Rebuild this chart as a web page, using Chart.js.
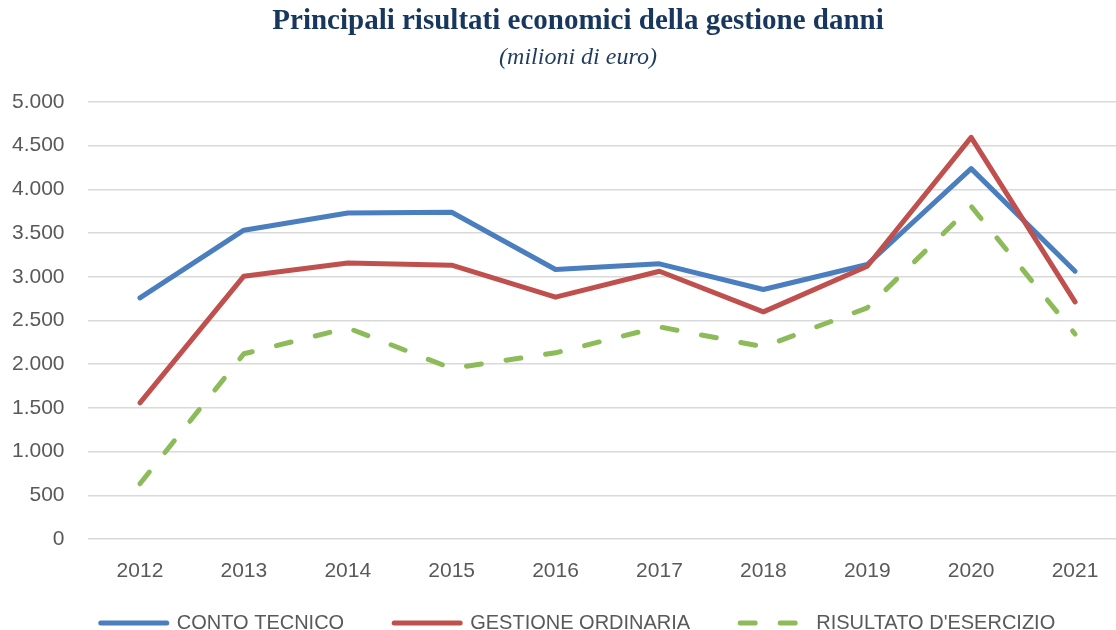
<!DOCTYPE html>
<html>
<head>
<meta charset="utf-8">
<script src="https://cdn.jsdelivr.net/npm/chart.js@4/dist/chart.umd.min.js"></script>
<style>
html,body{margin:0;padding:0;background:#fff;overflow:hidden;width:1116px;height:630px;}
#wrap{position:absolute;left:0;top:0;width:1130px;height:643px;}
</style>
</head>
<body>
<div id="wrap"><canvas id="c" width="1130" height="643"></canvas></div>
<script>
const years = ['2012','2013','2014','2015','2016','2017','2018','2019','2020','2021'];
const contoTecnico = [2759, 3533, 3731, 3739, 3084, 3148, 2855, 3141, 4238, 3064];
const gestioneOrdinaria = [1558, 3007, 3159, 3133, 2767, 3064, 2599, 3121, 4596, 2713];
const risultatoEsercizio = [632, 2119, 2416, 1952, 2130, 2427, 2199, 2645, 3807, 2345];
const seriesNames = ['CONTO TECNICO', 'GESTIONE ORDINARIA', "RISULTATO D'ESERCIZIO"];
const yTicks = [0, 500, 1000, 1500, 2000, 2500, 3000, 3500, 4000, 4500, 5000];

function fmt(v){
  const s = String(Math.round(v));
  return s.replace(/\B(?=(\d{3})+(?!\d))/g, '.');
}

const sans = "'Liberation Sans', Arial, sans-serif";
const serif = "'Liberation Serif', 'Times New Roman', serif";

new Chart(document.getElementById('c'), {
  type: 'line',
  data: {
    labels: years,
    datasets: [
      {label: seriesNames[0], data: contoTecnico, borderColor: '#4A7EBF', backgroundColor: '#4A7EBF',
       borderWidth: 5, pointRadius: 0, tension: 0, borderCapStyle: 'round', borderJoinStyle: 'round', order: 3},
      {label: seriesNames[1], data: gestioneOrdinaria, borderColor: '#C0504D', backgroundColor: '#C0504D',
       borderWidth: 5, pointRadius: 0, tension: 0, borderCapStyle: 'round', borderJoinStyle: 'round', order: 2},
      {label: seriesNames[2], data: risultatoEsercizio, borderColor: '#8DBB5A', backgroundColor: '#8DBB5A',
       borderWidth: 5, pointRadius: 0, tension: 0, borderDash: [15, 25], borderCapStyle: 'round', borderJoinStyle: 'round', order: 1}
    ]
  },
  options: {
    responsive: false,
    animation: false,
    events: [],
    layout: {padding: {left: 29, right: 3, top: 0, bottom: 0}},
    plugins: {
      title: {
        display: true,
        text: 'Principali risultati economici della gestione danni',
        color: '#17375E',
        font: {family: serif, size: 29, weight: 'bold'},
        padding: {top: 4.6, bottom: 0}
      },
      subtitle: {
        display: true,
        text: '(milioni di euro)',
        color: '#1F3B5E',
        font: {family: serif, size: 24, style: 'italic'},
        padding: {top: 4.2, bottom: 29.6}
      },
      legend: {
        position: 'bottom',
        labels: {
          usePointStyle: true,
          pointStyle: 'line',
          pointStyleWidth: 66,
          boxHeight: 20,
          padding: 50,
          color: '#595959',
          font: {family: sans, size: 20},
          sort: (a, b) => a.datasetIndex - b.datasetIndex,
          generateLabels: chart => Chart.defaults.plugins.legend.labels.generateLabels(chart).map(it => {
            const ds = chart.data.datasets[it.datasetIndex];
            it.lineDash = ds.borderDash || [];
            it.lineWidth = ds.borderWidth;
            it.lineCap = 'round';
            it.strokeStyle = ds.borderColor;
            it.pointStyle = 'line';
            return it;
          })
        }
      },
      tooltip: {enabled: false}
    },
    scales: {
      x: {
        offset: true,
        grid: {display: false, offset: true},
        border: {display: false},
        ticks: {color: '#595959', font: {family: sans, size: 21}, mirror: true, padding: -45, maxRotation: 0, autoSkip: false},
        afterFit: s => { s.height = 24; }
      },
      y: {
        min: 0, max: 5000,
        afterBuildTicks: s => { s.ticks = yTicks.map(v => ({value: v})); },
        grid: {color: '#D9D9D9', lineWidth: 1.6, drawTicks: false},
        border: {display: false},
        ticks: {color: '#595959', font: {family: sans, size: 21}, mirror: true, crossAlign: 'far', padding: -76, callback: v => fmt(v)},
        afterFit: s => { s.width = 59; }
      }
    }
  }
});
</script>
</body>
</html>
